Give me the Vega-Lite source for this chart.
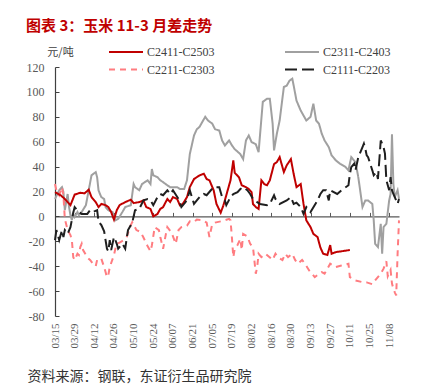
{
  "$schema": "https://vega.github.io/schema/vega-lite/v6.json",
  "width": 344,
  "height": 249,
  "autosize": {"type": "none"},
  "padding": {"left": 55, "top": 67, "right": 38, "bottom": 75},
  "background": "white",
  "config": {"view": {"stroke": null}},
  "title": {"text": "图表 3：玉米 11-3 月差走势", "anchor": "start", "frame": "bounds", "font": "Noto Sans CJK SC", "fontSize": 15, "fontWeight": "bold", "color": "#c00000", "offset": 12},
  "data": {"values": [
{"s":"C2411-C2503","t":"2024-03-15","v":19.5},{"s":"C2411-C2503","t":"2024-03-19","v":17},{"s":"C2411-C2503","t":"2024-03-22","v":14},{"s":"C2411-C2503","t":"2024-03-26","v":9},{"s":"C2411-C2503","t":"2024-03-29","v":17.5},{"s":"C2411-C2503","t":"2024-04-02","v":19},{"s":"C2411-C2503","t":"2024-04-05","v":18.5},{"s":"C2411-C2503","t":"2024-04-08","v":21.4},{"s":"C2411-C2503","t":"2024-04-10","v":15.5},{"s":"C2411-C2503","t":"2024-04-13","v":11.5},{"s":"C2411-C2503","t":"2024-04-15","v":7.5},{"s":"C2411-C2503","t":"2024-04-17","v":10},{"s":"C2411-C2503","t":"2024-04-20","v":9},{"s":"C2411-C2503","t":"2024-04-22","v":7.5},{"s":"C2411-C2503","t":"2024-04-24","v":3.5},{"s":"C2411-C2503","t":"2024-04-26","v":-2.6},{"s":"C2411-C2503","t":"2024-04-28","v":5},{"s":"C2411-C2503","t":"2024-04-30","v":9},{"s":"C2411-C2503","t":"2024-05-04","v":11.5},{"s":"C2411-C2503","t":"2024-05-08","v":13.4},{"s":"C2411-C2503","t":"2024-05-10","v":10.7},{"s":"C2411-C2503","t":"2024-05-14","v":11.5},{"s":"C2411-C2503","t":"2024-05-17","v":12.8},{"s":"C2411-C2503","t":"2024-05-19","v":7.5},{"s":"C2411-C2503","t":"2024-05-22","v":6},{"s":"C2411-C2503","t":"2024-05-24","v":0},{"s":"C2411-C2503","t":"2024-05-27","v":2},{"s":"C2411-C2503","t":"2024-05-29","v":6},{"s":"C2411-C2503","t":"2024-05-31","v":7.5},{"s":"C2411-C2503","t":"2024-06-03","v":14},{"s":"C2411-C2503","t":"2024-06-05","v":11.5},{"s":"C2411-C2503","t":"2024-06-07","v":15.5},{"s":"C2411-C2503","t":"2024-06-10","v":14},{"s":"C2411-C2503","t":"2024-06-12","v":8.8},{"s":"C2411-C2503","t":"2024-06-14","v":10},{"s":"C2411-C2503","t":"2024-06-17","v":15.5},{"s":"C2411-C2503","t":"2024-06-19","v":23.5},{"s":"C2411-C2503","t":"2024-06-22","v":30},{"s":"C2411-C2503","t":"2024-06-24","v":31.5},{"s":"C2411-C2503","t":"2024-06-26","v":33},{"s":"C2411-C2503","t":"2024-06-29","v":34.3},{"s":"C2411-C2503","t":"2024-07-01","v":30},{"s":"C2411-C2503","t":"2024-07-03","v":29},{"s":"C2411-C2503","t":"2024-07-06","v":21},{"s":"C2411-C2503","t":"2024-07-08","v":10},{"s":"C2411-C2503","t":"2024-07-11","v":3},{"s":"C2411-C2503","t":"2024-07-13","v":9},{"s":"C2411-C2503","t":"2024-07-15","v":17},{"s":"C2411-C2503","t":"2024-07-18","v":29},{"s":"C2411-C2503","t":"2024-07-20","v":45},{"s":"C2411-C2503","t":"2024-07-21","v":35},{"s":"C2411-C2503","t":"2024-07-24","v":31.5},{"s":"C2411-C2503","t":"2024-07-26","v":25},{"s":"C2411-C2503","t":"2024-07-29","v":23.5},{"s":"C2411-C2503","t":"2024-07-31","v":22},{"s":"C2411-C2503","t":"2024-08-02","v":19.5},{"s":"C2411-C2503","t":"2024-08-03","v":10},{"s":"C2411-C2503","t":"2024-08-05","v":7.5},{"s":"C2411-C2503","t":"2024-08-07","v":6},{"s":"C2411-C2503","t":"2024-08-09","v":29},{"s":"C2411-C2503","t":"2024-08-11","v":26},{"s":"C2411-C2503","t":"2024-08-13","v":25},{"s":"C2411-C2503","t":"2024-08-15","v":29},{"s":"C2411-C2503","t":"2024-08-18","v":42},{"s":"C2411-C2503","t":"2024-08-20","v":43.6},{"s":"C2411-C2503","t":"2024-08-22","v":47.6},{"s":"C2411-C2503","t":"2024-08-25","v":35.6},{"s":"C2411-C2503","t":"2024-08-27","v":41},{"s":"C2411-C2503","t":"2024-08-30","v":46},{"s":"C2411-C2503","t":"2024-09-01","v":34},{"s":"C2411-C2503","t":"2024-09-03","v":23.5},{"s":"C2411-C2503","t":"2024-09-06","v":26},{"s":"C2411-C2503","t":"2024-09-08","v":10},{"s":"C2411-C2503","t":"2024-09-10","v":-3.2},{"s":"C2411-C2503","t":"2024-09-13","v":-8.6},{"s":"C2411-C2503","t":"2024-09-15","v":-14},{"s":"C2411-C2503","t":"2024-09-18","v":-16.6},{"s":"C2411-C2503","t":"2024-09-20","v":-25},{"s":"C2411-C2503","t":"2024-09-22","v":-30},{"s":"C2411-C2503","t":"2024-09-25","v":-31},{"s":"C2411-C2503","t":"2024-09-27","v":-23},{"s":"C2411-C2503","t":"2024-09-28","v":-30},{"s":"C2411-C2503","t":"2024-10-01","v":-28.7},{"s":"C2411-C2503","t":"2024-10-11","v":-27},
{"s":"C2311-C2403","t":"2024-03-15","v":14},{"s":"C2311-C2403","t":"2024-03-18","v":21},{"s":"C2311-C2403","t":"2024-03-20","v":23.5},{"s":"C2311-C2403","t":"2024-03-21","v":19.5},{"s":"C2311-C2403","t":"2024-03-22","v":5},{"s":"C2311-C2403","t":"2024-03-24","v":18},{"s":"C2311-C2403","t":"2024-03-25","v":7.5},{"s":"C2311-C2403","t":"2024-03-26","v":1},{"s":"C2311-C2403","t":"2024-03-27","v":-3},{"s":"C2311-C2403","t":"2024-03-28","v":2},{"s":"C2311-C2403","t":"2024-03-29","v":-0.5},{"s":"C2311-C2403","t":"2024-03-31","v":3.5},{"s":"C2311-C2403","t":"2024-04-01","v":1},{"s":"C2311-C2403","t":"2024-04-03","v":3.5},{"s":"C2311-C2403","t":"2024-04-06","v":9},{"s":"C2311-C2403","t":"2024-04-08","v":21},{"s":"C2311-C2403","t":"2024-04-10","v":33},{"s":"C2311-C2403","t":"2024-04-13","v":35.6},{"s":"C2311-C2403","t":"2024-04-14","v":31.5},{"s":"C2311-C2403","t":"2024-04-15","v":21},{"s":"C2311-C2403","t":"2024-04-16","v":18},{"s":"C2311-C2403","t":"2024-04-17","v":15.5},{"s":"C2311-C2403","t":"2024-04-19","v":14},{"s":"C2311-C2403","t":"2024-04-20","v":7.5},{"s":"C2311-C2403","t":"2024-04-22","v":5},{"s":"C2311-C2403","t":"2024-04-25","v":3.5},{"s":"C2311-C2403","t":"2024-04-27","v":-3.2},{"s":"C2311-C2403","t":"2024-04-29","v":-2},{"s":"C2311-C2403","t":"2024-05-02","v":3.5},{"s":"C2311-C2403","t":"2024-05-04","v":7.5},{"s":"C2311-C2403","t":"2024-05-08","v":9},{"s":"C2311-C2403","t":"2024-05-10","v":26},{"s":"C2311-C2403","t":"2024-05-11","v":23.5},{"s":"C2311-C2403","t":"2024-05-14","v":21},{"s":"C2311-C2403","t":"2024-05-16","v":26},{"s":"C2311-C2403","t":"2024-05-20","v":29},{"s":"C2311-C2403","t":"2024-05-22","v":26},{"s":"C2311-C2403","t":"2024-05-23","v":38},{"s":"C2311-C2403","t":"2024-05-24","v":33},{"s":"C2311-C2403","t":"2024-05-27","v":31.5},{"s":"C2311-C2403","t":"2024-05-29","v":29},{"s":"C2311-C2403","t":"2024-05-31","v":27.5},{"s":"C2311-C2403","t":"2024-06-03","v":25},{"s":"C2311-C2403","t":"2024-06-05","v":23.5},{"s":"C2311-C2403","t":"2024-06-10","v":23.5},{"s":"C2311-C2403","t":"2024-06-12","v":22},{"s":"C2311-C2403","t":"2024-06-15","v":22},{"s":"C2311-C2403","t":"2024-06-17","v":29},{"s":"C2311-C2403","t":"2024-06-19","v":50},{"s":"C2311-C2403","t":"2024-06-22","v":65},{"s":"C2311-C2403","t":"2024-06-24","v":70},{"s":"C2311-C2403","t":"2024-06-26","v":72},{"s":"C2311-C2403","t":"2024-06-30","v":80},{"s":"C2311-C2403","t":"2024-07-02","v":77},{"s":"C2311-C2403","t":"2024-07-05","v":74.5},{"s":"C2311-C2403","t":"2024-07-07","v":70},{"s":"C2311-C2403","t":"2024-07-10","v":69},{"s":"C2311-C2403","t":"2024-07-12","v":61},{"s":"C2311-C2403","t":"2024-07-14","v":57},{"s":"C2311-C2403","t":"2024-07-17","v":61},{"s":"C2311-C2403","t":"2024-07-19","v":57},{"s":"C2311-C2403","t":"2024-07-21","v":54},{"s":"C2311-C2403","t":"2024-07-25","v":50},{"s":"C2311-C2403","t":"2024-07-27","v":46},{"s":"C2311-C2403","t":"2024-07-29","v":61},{"s":"C2311-C2403","t":"2024-07-31","v":65},{"s":"C2311-C2403","t":"2024-08-02","v":59.7},{"s":"C2311-C2403","t":"2024-08-05","v":58},{"s":"C2311-C2403","t":"2024-08-07","v":51.6},{"s":"C2311-C2403","t":"2024-08-09","v":78.5},{"s":"C2311-C2403","t":"2024-08-10","v":92},{"s":"C2311-C2403","t":"2024-08-13","v":94.5},{"s":"C2311-C2403","t":"2024-08-15","v":94.5},{"s":"C2311-C2403","t":"2024-08-17","v":74.5},{"s":"C2311-C2403","t":"2024-08-18","v":53},{"s":"C2311-C2403","t":"2024-08-20","v":66.4},{"s":"C2311-C2403","t":"2024-08-22","v":77},{"s":"C2311-C2403","t":"2024-08-25","v":104},{"s":"C2311-C2403","t":"2024-08-27","v":105},{"s":"C2311-C2403","t":"2024-08-29","v":109},{"s":"C2311-C2403","t":"2024-08-31","v":110.6},{"s":"C2311-C2403","t":"2024-09-01","v":105},{"s":"C2311-C2403","t":"2024-09-03","v":93},{"s":"C2311-C2403","t":"2024-09-06","v":85},{"s":"C2311-C2403","t":"2024-09-08","v":81},{"s":"C2311-C2403","t":"2024-09-10","v":77},{"s":"C2311-C2403","t":"2024-09-13","v":80},{"s":"C2311-C2403","t":"2024-09-15","v":90.5},{"s":"C2311-C2403","t":"2024-09-17","v":77},{"s":"C2311-C2403","t":"2024-09-19","v":74.5},{"s":"C2311-C2403","t":"2024-09-21","v":66.4},{"s":"C2311-C2403","t":"2024-09-23","v":61},{"s":"C2311-C2403","t":"2024-09-26","v":55.6},{"s":"C2311-C2403","t":"2024-09-28","v":49},{"s":"C2311-C2403","t":"2024-10-01","v":45},{"s":"C2311-C2403","t":"2024-10-04","v":42.3},{"s":"C2311-C2403","t":"2024-10-08","v":39.6},{"s":"C2311-C2403","t":"2024-10-10","v":37},{"s":"C2311-C2403","t":"2024-10-12","v":47.6},{"s":"C2311-C2403","t":"2024-10-15","v":43.6},{"s":"C2311-C2403","t":"2024-10-17","v":31.6},{"s":"C2311-C2403","t":"2024-10-20","v":7.5},{"s":"C2311-C2403","t":"2024-10-22","v":12.8},{"s":"C2311-C2403","t":"2024-10-24","v":12.8},{"s":"C2311-C2403","t":"2024-10-27","v":10},{"s":"C2311-C2403","t":"2024-10-28","v":-3},{"s":"C2311-C2403","t":"2024-10-29","v":-22},{"s":"C2311-C2403","t":"2024-10-31","v":-24.6},{"s":"C2311-C2403","t":"2024-11-02","v":-6},{"s":"C2311-C2403","t":"2024-11-03","v":-30},{"s":"C2311-C2403","t":"2024-11-04","v":-8.6},{"s":"C2311-C2403","t":"2024-11-06","v":-6},{"s":"C2311-C2403","t":"2024-11-08","v":12.8},{"s":"C2311-C2403","t":"2024-11-09","v":18},{"s":"C2311-C2403","t":"2024-11-10","v":66},{"s":"C2311-C2403","t":"2024-11-11","v":26},{"s":"C2311-C2403","t":"2024-11-12","v":15.5},{"s":"C2311-C2403","t":"2024-11-14","v":21},{"s":"C2311-C2403","t":"2024-11-15","v":14},
{"s":"C2211-C2303","t":"2024-03-15","v":26},{"s":"C2211-C2303","t":"2024-03-16","v":21},{"s":"C2211-C2303","t":"2024-03-18","v":17},{"s":"C2211-C2303","t":"2024-03-20","v":23.5},{"s":"C2211-C2303","t":"2024-03-21","v":17},{"s":"C2211-C2303","t":"2024-03-22","v":-2},{"s":"C2211-C2303","t":"2024-03-24","v":-11},{"s":"C2211-C2303","t":"2024-03-26","v":-15},{"s":"C2211-C2303","t":"2024-03-27","v":-19},{"s":"C2211-C2303","t":"2024-03-28","v":-32.7},{"s":"C2211-C2303","t":"2024-03-29","v":-35},{"s":"C2211-C2303","t":"2024-03-31","v":-30},{"s":"C2211-C2303","t":"2024-04-01","v":-31},{"s":"C2211-C2303","t":"2024-04-02","v":-24.6},{"s":"C2211-C2303","t":"2024-04-03","v":-22},{"s":"C2211-C2303","t":"2024-04-04","v":-27},{"s":"C2211-C2303","t":"2024-04-06","v":-31},{"s":"C2211-C2303","t":"2024-04-07","v":-33},{"s":"C2211-C2303","t":"2024-04-09","v":-35},{"s":"C2211-C2303","t":"2024-04-11","v":-38},{"s":"C2211-C2303","t":"2024-04-13","v":-40},{"s":"C2211-C2303","t":"2024-04-14","v":-35},{"s":"C2211-C2303","t":"2024-04-16","v":-35},{"s":"C2211-C2303","t":"2024-04-17","v":-34},{"s":"C2211-C2303","t":"2024-04-19","v":-40.7},{"s":"C2211-C2303","t":"2024-04-20","v":-44.7},{"s":"C2211-C2303","t":"2024-04-21","v":-48.8},{"s":"C2211-C2303","t":"2024-04-22","v":-47},{"s":"C2211-C2303","t":"2024-04-23","v":-40.7},{"s":"C2211-C2303","t":"2024-04-26","v":-31},{"s":"C2211-C2303","t":"2024-04-27","v":-26},{"s":"C2211-C2303","t":"2024-04-28","v":-22},{"s":"C2211-C2303","t":"2024-04-30","v":-21},{"s":"C2211-C2303","t":"2024-05-03","v":-19},{"s":"C2211-C2303","t":"2024-05-05","v":-16.6},{"s":"C2211-C2303","t":"2024-05-08","v":-7},{"s":"C2211-C2303","t":"2024-05-09","v":-4.6},{"s":"C2211-C2303","t":"2024-05-12","v":-11},{"s":"C2211-C2303","t":"2024-05-15","v":-12.5},{"s":"C2211-C2303","t":"2024-05-17","v":-17},{"s":"C2211-C2303","t":"2024-05-20","v":-24},{"s":"C2211-C2303","t":"2024-05-22","v":-28},{"s":"C2211-C2303","t":"2024-05-23","v":-23.3},{"s":"C2211-C2303","t":"2024-05-25","v":-8.6},{"s":"C2211-C2303","t":"2024-05-28","v":-11},{"s":"C2211-C2303","t":"2024-05-29","v":-16.6},{"s":"C2211-C2303","t":"2024-05-31","v":-26},{"s":"C2211-C2303","t":"2024-06-02","v":-14},{"s":"C2211-C2303","t":"2024-06-03","v":-8.6},{"s":"C2211-C2303","t":"2024-06-06","v":-13},{"s":"C2211-C2303","t":"2024-06-09","v":-22},{"s":"C2211-C2303","t":"2024-06-11","v":-11},{"s":"C2211-C2303","t":"2024-06-13","v":-8.6},{"s":"C2211-C2303","t":"2024-06-17","v":-7.5},{"s":"C2211-C2303","t":"2024-06-19","v":-4},{"s":"C2211-C2303","t":"2024-06-22","v":-4.6},{"s":"C2211-C2303","t":"2024-06-24","v":-2.5},{"s":"C2211-C2303","t":"2024-06-28","v":-3},{"s":"C2211-C2303","t":"2024-07-01","v":-5},{"s":"C2211-C2303","t":"2024-07-03","v":-16.6},{"s":"C2211-C2303","t":"2024-07-05","v":-6},{"s":"C2211-C2303","t":"2024-07-07","v":-5},{"s":"C2211-C2303","t":"2024-07-11","v":-4},{"s":"C2211-C2303","t":"2024-07-13","v":-3.5},{"s":"C2211-C2303","t":"2024-07-17","v":-2},{"s":"C2211-C2303","t":"2024-07-18","v":-3},{"s":"C2211-C2303","t":"2024-07-19","v":-17},{"s":"C2211-C2303","t":"2024-07-20","v":-32.7},{"s":"C2211-C2303","t":"2024-07-21","v":-26},{"s":"C2211-C2303","t":"2024-07-23","v":-23},{"s":"C2211-C2303","t":"2024-07-25","v":-18},{"s":"C2211-C2303","t":"2024-07-26","v":-27},{"s":"C2211-C2303","t":"2024-07-27","v":-14},{"s":"C2211-C2303","t":"2024-07-30","v":-16},{"s":"C2211-C2303","t":"2024-08-01","v":-22},{"s":"C2211-C2303","t":"2024-08-03","v":-24.6},{"s":"C2211-C2303","t":"2024-08-05","v":-46},{"s":"C2211-C2303","t":"2024-08-06","v":-40.7},{"s":"C2211-C2303","t":"2024-08-07","v":-30},{"s":"C2211-C2303","t":"2024-08-09","v":-32.7},{"s":"C2211-C2303","t":"2024-08-12","v":-30},{"s":"C2211-C2303","t":"2024-08-14","v":-32},{"s":"C2211-C2303","t":"2024-08-17","v":-35},{"s":"C2211-C2303","t":"2024-08-19","v":-30},{"s":"C2211-C2303","t":"2024-08-21","v":-33},{"s":"C2211-C2303","t":"2024-08-24","v":-35},{"s":"C2211-C2303","t":"2024-08-26","v":-30},{"s":"C2211-C2303","t":"2024-08-28","v":-32.7},{"s":"C2211-C2303","t":"2024-08-31","v":-30},{"s":"C2211-C2303","t":"2024-09-02","v":-35},{"s":"C2211-C2303","t":"2024-09-04","v":-38},{"s":"C2211-C2303","t":"2024-09-07","v":-35},{"s":"C2211-C2303","t":"2024-09-09","v":-38},{"s":"C2211-C2303","t":"2024-09-12","v":-43.4},{"s":"C2211-C2303","t":"2024-09-14","v":-46},{"s":"C2211-C2303","t":"2024-09-16","v":-48.8},{"s":"C2211-C2303","t":"2024-09-19","v":-46},{"s":"C2211-C2303","t":"2024-09-21","v":-44.7},{"s":"C2211-C2303","t":"2024-09-23","v":-46},{"s":"C2211-C2303","t":"2024-09-27","v":-38},{"s":"C2211-C2303","t":"2024-10-01","v":-40.7},{"s":"C2211-C2303","t":"2024-10-05","v":-39.4},{"s":"C2211-C2303","t":"2024-10-10","v":-38},{"s":"C2211-C2303","t":"2024-10-11","v":-48.8},{"s":"C2211-C2303","t":"2024-10-15","v":-51.4},{"s":"C2211-C2303","t":"2024-10-20","v":-52.8},{"s":"C2211-C2303","t":"2024-10-23","v":-53},{"s":"C2211-C2303","t":"2024-10-27","v":-54.5},{"s":"C2211-C2303","t":"2024-10-29","v":-51.4},{"s":"C2211-C2303","t":"2024-11-02","v":-46},{"s":"C2211-C2303","t":"2024-11-04","v":-42},{"s":"C2211-C2303","t":"2024-11-06","v":-36},{"s":"C2211-C2303","t":"2024-11-07","v":-48},{"s":"C2211-C2303","t":"2024-11-09","v":-43},{"s":"C2211-C2303","t":"2024-11-10","v":-54},{"s":"C2211-C2303","t":"2024-11-11","v":-58},{"s":"C2211-C2303","t":"2024-11-12","v":-61},{"s":"C2211-C2303","t":"2024-11-13","v":-63.5},{"s":"C2211-C2303","t":"2024-11-14","v":-30},{"s":"C2211-C2303","t":"2024-11-15","v":-3.2},
{"s":"C2111-C2203","t":"2024-03-15","v":-19},{"s":"C2111-C2203","t":"2024-03-16","v":-11},{"s":"C2111-C2203","t":"2024-03-18","v":-19},{"s":"C2111-C2203","t":"2024-03-20","v":-11},{"s":"C2111-C2203","t":"2024-03-21","v":-16.6},{"s":"C2111-C2203","t":"2024-03-22","v":-11},{"s":"C2111-C2203","t":"2024-03-24","v":-14},{"s":"C2111-C2203","t":"2024-03-26","v":-8.6},{"s":"C2111-C2203","t":"2024-03-28","v":3},{"s":"C2111-C2203","t":"2024-03-29","v":7.5},{"s":"C2111-C2203","t":"2024-04-01","v":3.5},{"s":"C2111-C2203","t":"2024-04-03","v":2},{"s":"C2111-C2203","t":"2024-04-07","v":2},{"s":"C2111-C2203","t":"2024-04-09","v":5},{"s":"C2111-C2203","t":"2024-04-11","v":3.5},{"s":"C2111-C2203","t":"2024-04-14","v":5},{"s":"C2111-C2203","t":"2024-04-15","v":-4},{"s":"C2111-C2203","t":"2024-04-17","v":-7},{"s":"C2111-C2203","t":"2024-04-19","v":-12},{"s":"C2111-C2203","t":"2024-04-20","v":-19},{"s":"C2111-C2203","t":"2024-04-21","v":-26},{"s":"C2111-C2203","t":"2024-04-22","v":-28},{"s":"C2111-C2203","t":"2024-04-23","v":-19},{"s":"C2111-C2203","t":"2024-04-24","v":-27},{"s":"C2111-C2203","t":"2024-04-26","v":-16.6},{"s":"C2111-C2203","t":"2024-04-27","v":-19},{"s":"C2111-C2203","t":"2024-04-28","v":-22},{"s":"C2111-C2203","t":"2024-04-29","v":-26},{"s":"C2111-C2203","t":"2024-05-02","v":-22},{"s":"C2111-C2203","t":"2024-05-04","v":-26},{"s":"C2111-C2203","t":"2024-05-05","v":-18},{"s":"C2111-C2203","t":"2024-05-06","v":-11},{"s":"C2111-C2203","t":"2024-05-09","v":-5},{"s":"C2111-C2203","t":"2024-05-10","v":0},{"s":"C2111-C2203","t":"2024-05-11","v":5},{"s":"C2111-C2203","t":"2024-05-14","v":6},{"s":"C2111-C2203","t":"2024-05-17","v":13},{"s":"C2111-C2203","t":"2024-05-20","v":14},{"s":"C2111-C2203","t":"2024-05-22","v":13},{"s":"C2111-C2203","t":"2024-05-24","v":9},{"s":"C2111-C2203","t":"2024-05-27","v":15.5},{"s":"C2111-C2203","t":"2024-05-29","v":18},{"s":"C2111-C2203","t":"2024-05-31","v":17},{"s":"C2111-C2203","t":"2024-06-03","v":21},{"s":"C2111-C2203","t":"2024-06-05","v":18},{"s":"C2111-C2203","t":"2024-06-07","v":21},{"s":"C2111-C2203","t":"2024-06-11","v":14},{"s":"C2111-C2203","t":"2024-06-13","v":7.5},{"s":"C2111-C2203","t":"2024-06-16","v":11.5},{"s":"C2111-C2203","t":"2024-06-18","v":17},{"s":"C2111-C2203","t":"2024-06-19","v":21},{"s":"C2111-C2203","t":"2024-06-22","v":10},{"s":"C2111-C2203","t":"2024-06-24","v":12.8},{"s":"C2111-C2203","t":"2024-06-26","v":15.5},{"s":"C2111-C2203","t":"2024-06-29","v":18},{"s":"C2111-C2203","t":"2024-07-01","v":17},{"s":"C2111-C2203","t":"2024-07-04","v":21},{"s":"C2111-C2203","t":"2024-07-06","v":23.5},{"s":"C2111-C2203","t":"2024-07-10","v":23.5},{"s":"C2111-C2203","t":"2024-07-12","v":15.5},{"s":"C2111-C2203","t":"2024-07-14","v":12.8},{"s":"C2111-C2203","t":"2024-07-15","v":9},{"s":"C2111-C2203","t":"2024-07-18","v":15.5},{"s":"C2111-C2203","t":"2024-07-20","v":18},{"s":"C2111-C2203","t":"2024-07-23","v":19.5},{"s":"C2111-C2203","t":"2024-07-25","v":22},{"s":"C2111-C2203","t":"2024-07-27","v":23.5},{"s":"C2111-C2203","t":"2024-07-30","v":21},{"s":"C2111-C2203","t":"2024-08-01","v":18},{"s":"C2111-C2203","t":"2024-08-03","v":14},{"s":"C2111-C2203","t":"2024-08-06","v":11.5},{"s":"C2111-C2203","t":"2024-08-08","v":10},{"s":"C2111-C2203","t":"2024-08-13","v":9},{"s":"C2111-C2203","t":"2024-08-15","v":10},{"s":"C2111-C2203","t":"2024-08-18","v":17},{"s":"C2111-C2203","t":"2024-08-19","v":14},{"s":"C2111-C2203","t":"2024-08-22","v":10},{"s":"C2111-C2203","t":"2024-08-27","v":12.8},{"s":"C2111-C2203","t":"2024-08-30","v":15.5},{"s":"C2111-C2203","t":"2024-09-01","v":10},{"s":"C2111-C2203","t":"2024-09-03","v":11},{"s":"C2111-C2203","t":"2024-09-06","v":7.5},{"s":"C2111-C2203","t":"2024-09-08","v":2},{"s":"C2111-C2203","t":"2024-09-10","v":7.5},{"s":"C2111-C2203","t":"2024-09-13","v":3.5},{"s":"C2111-C2203","t":"2024-09-18","v":12.8},{"s":"C2111-C2203","t":"2024-09-20","v":18},{"s":"C2111-C2203","t":"2024-09-22","v":21},{"s":"C2111-C2203","t":"2024-09-24","v":21},{"s":"C2111-C2203","t":"2024-09-26","v":12.8},{"s":"C2111-C2203","t":"2024-09-27","v":21},{"s":"C2111-C2203","t":"2024-10-02","v":18},{"s":"C2111-C2203","t":"2024-10-05","v":21},{"s":"C2111-C2203","t":"2024-10-10","v":25},{"s":"C2111-C2203","t":"2024-10-11","v":34},{"s":"C2111-C2203","t":"2024-10-12","v":39.6},{"s":"C2111-C2203","t":"2024-10-14","v":42.3},{"s":"C2111-C2203","t":"2024-10-15","v":37},{"s":"C2111-C2203","t":"2024-10-17","v":47.6},{"s":"C2111-C2203","t":"2024-10-20","v":55.6},{"s":"C2111-C2203","t":"2024-10-21","v":58.4},{"s":"C2111-C2203","t":"2024-10-22","v":54.4},{"s":"C2111-C2203","t":"2024-10-23","v":49},{"s":"C2111-C2203","t":"2024-10-24","v":47.6},{"s":"C2111-C2203","t":"2024-10-27","v":37},{"s":"C2111-C2203","t":"2024-10-28","v":33},{"s":"C2111-C2203","t":"2024-10-29","v":34.3},{"s":"C2111-C2203","t":"2024-10-30","v":35.6},{"s":"C2111-C2203","t":"2024-10-31","v":30},{"s":"C2111-C2203","t":"2024-11-02","v":61},{"s":"C2111-C2203","t":"2024-11-03","v":58.4},{"s":"C2111-C2203","t":"2024-11-04","v":55.6},{"s":"C2111-C2203","t":"2024-11-05","v":50.4},{"s":"C2111-C2203","t":"2024-11-06","v":29},{"s":"C2111-C2203","t":"2024-11-08","v":21},{"s":"C2111-C2203","t":"2024-11-09","v":31.6},{"s":"C2111-C2203","t":"2024-11-10","v":21},{"s":"C2111-C2203","t":"2024-11-11","v":18},{"s":"C2111-C2203","t":"2024-11-12","v":15.5},{"s":"C2111-C2203","t":"2024-11-14","v":10},{"s":"C2111-C2203","t":"2024-11-15","v":14}
  ]},
  "layer": [
    {
      "transform": [{"filter": "datum.s == 'C2311-C2403' || datum.s == 'C2211-C2303'"}],
      "mark": {"type": "line", "strokeWidth": 2},
      "encoding": {
        "x": {"field": "t", "type": "temporal",
          "scale": {"type": "utc", "domain": [{"year": 2024, "month": 3, "date": 15, "utc": true}, {"year": 2024, "month": 11, "date": 15, "utc": true}]},
          "axis": {"orient": "bottom", "format": "%m/%d", "labelAngle": -90, "labelAlign": "right", "labelBaseline": "middle", "labelPadding": 7, "labelFont": "Liberation Serif", "labelFontSize": 11, "labelColor": "#595959", "labelOverlap": false, "labelFlush": false, "domain": false, "ticks": false, "grid": false,
            "values": [{"year":2024,"month":3,"date":15,"utc":true},{"year":2024,"month":3,"date":29,"utc":true},{"year":2024,"month":4,"date":12,"utc":true},{"year":2024,"month":4,"date":26,"utc":true},{"year":2024,"month":5,"date":10,"utc":true},{"year":2024,"month":5,"date":24,"utc":true},{"year":2024,"month":6,"date":7,"utc":true},{"year":2024,"month":6,"date":21,"utc":true},{"year":2024,"month":7,"date":5,"utc":true},{"year":2024,"month":7,"date":19,"utc":true},{"year":2024,"month":8,"date":2,"utc":true},{"year":2024,"month":8,"date":16,"utc":true},{"year":2024,"month":8,"date":30,"utc":true},{"year":2024,"month":9,"date":13,"utc":true},{"year":2024,"month":9,"date":27,"utc":true},{"year":2024,"month":10,"date":11,"utc":true},{"year":2024,"month":10,"date":25,"utc":true},{"year":2024,"month":11,"date":8,"utc":true}],
            "title": "资料来源：钢联，东证衍生品研究院", "titleFont": "Noto Sans CJK SC", "titleFontSize": 14, "titleFontWeight": "normal", "titleColor": "#333333", "titleAngle": 0, "titleAlign": "left", "titleBaseline": "middle", "titleX": -28, "titleY": 60}},
        "y": {"field": "v", "type": "quantitative",
          "scale": {"domain": [-80, 120], "nice": false, "zero": false},
          "axis": {"orient": "left", "values": [-80, -60, -40, -20, 0, 20, 40, 60, 80, 100, 120], "tickCount": 11, "labelExpr": "'' + datum.value", "labelOverlap": false, "labelFlush": false, "labelFont": "Liberation Serif", "labelFontSize": 12, "labelColor": "#595959", "labelPadding": 15, "tickSize": -4, "tickColor": "#404040", "domainColor": "#404040", "domainWidth": 1.2, "grid": false,
            "title": "元/吨", "titleFont": "Noto Sans CJK SC", "titleFontSize": 11, "titleFontWeight": "normal", "titleColor": "#404040", "titleAngle": 0, "titleAlign": "center", "titleBaseline": "middle", "titleX": 5, "titleY": -15}},
        "color": {"field": "s", "type": "nominal",
          "scale": {"domain": ["C2411-C2503", "C2311-C2403", "C2211-C2303", "C2111-C2203"], "range": ["#c00000", "#a0a0a0", "#ff7c80", "#1f1f1f"]},
          "legend": {"orient": "none", "legendX": 53, "legendY": -21, "direction": "horizontal", "columns": 2, "title": null, "padding": 0, "symbolType": "stroke", "symbolSize": 1156, "symbolStrokeWidth": 2, "clipHeight": 12, "rowPadding": 5.6, "columnPadding": 69, "labelOffset": 3, "labelFont": "Liberation Serif", "labelFontSize": 12, "labelColor": "#404040"}},
        "strokeDash": {"field": "s", "type": "nominal",
          "scale": {"domain": ["C2411-C2503", "C2311-C2403", "C2211-C2303", "C2111-C2203"], "range": [[1, 0], [1, 0], [6, 5], [12, 5]]},
          "legend": null}
      }
    },
    {
      "transform": [{"filter": "datum.s == 'C2111-C2203' || datum.s == 'C2411-C2503'"}],
      "mark": {"type": "line", "strokeWidth": 2},
      "encoding": {
        "x": {"field": "t", "type": "temporal",
          "axis": {"orient": "top", "offset": -149.4, "labels": false, "ticks": true, "tickSize": 4, "tickColor": "#595959", "domain": true, "domainColor": "#595959", "domainWidth": 1.3, "grid": false, "title": null,
            "values": [{"year":2024,"month":3,"date":15,"utc":true},{"year":2024,"month":3,"date":29,"utc":true},{"year":2024,"month":4,"date":12,"utc":true},{"year":2024,"month":4,"date":26,"utc":true},{"year":2024,"month":5,"date":10,"utc":true},{"year":2024,"month":5,"date":24,"utc":true},{"year":2024,"month":6,"date":7,"utc":true},{"year":2024,"month":6,"date":21,"utc":true},{"year":2024,"month":7,"date":5,"utc":true},{"year":2024,"month":7,"date":19,"utc":true},{"year":2024,"month":8,"date":2,"utc":true},{"year":2024,"month":8,"date":16,"utc":true},{"year":2024,"month":8,"date":30,"utc":true},{"year":2024,"month":9,"date":13,"utc":true},{"year":2024,"month":9,"date":27,"utc":true},{"year":2024,"month":10,"date":11,"utc":true},{"year":2024,"month":10,"date":25,"utc":true},{"year":2024,"month":11,"date":8,"utc":true}]}},
        "y": {"field": "v", "type": "quantitative",
          "axis": {"orient": "left", "values": [-80, -60, -40, -20, 0, 20, 40, 60, 80, 100, 120], "tickCount": 11, "labelExpr": "'' + datum.value", "labelOverlap": false, "labelFlush": false, "labelFont": "Liberation Serif", "labelFontSize": 12, "labelColor": "#595959", "labelPadding": 15, "tickSize": -4, "tickColor": "#404040", "domainColor": "#404040", "domainWidth": 1.2, "grid": false,
            "title": "元/吨", "titleFont": "Noto Sans CJK SC", "titleFontSize": 11, "titleFontWeight": "normal", "titleColor": "#404040", "titleAngle": 0, "titleAlign": "center", "titleBaseline": "middle", "titleX": 5, "titleY": -15}},
        "color": {"field": "s", "type": "nominal"},
        "strokeDash": {"field": "s", "type": "nominal"}
      }
    }
  ],
  "resolve": {"axis": {"x": "independent"}}
}
